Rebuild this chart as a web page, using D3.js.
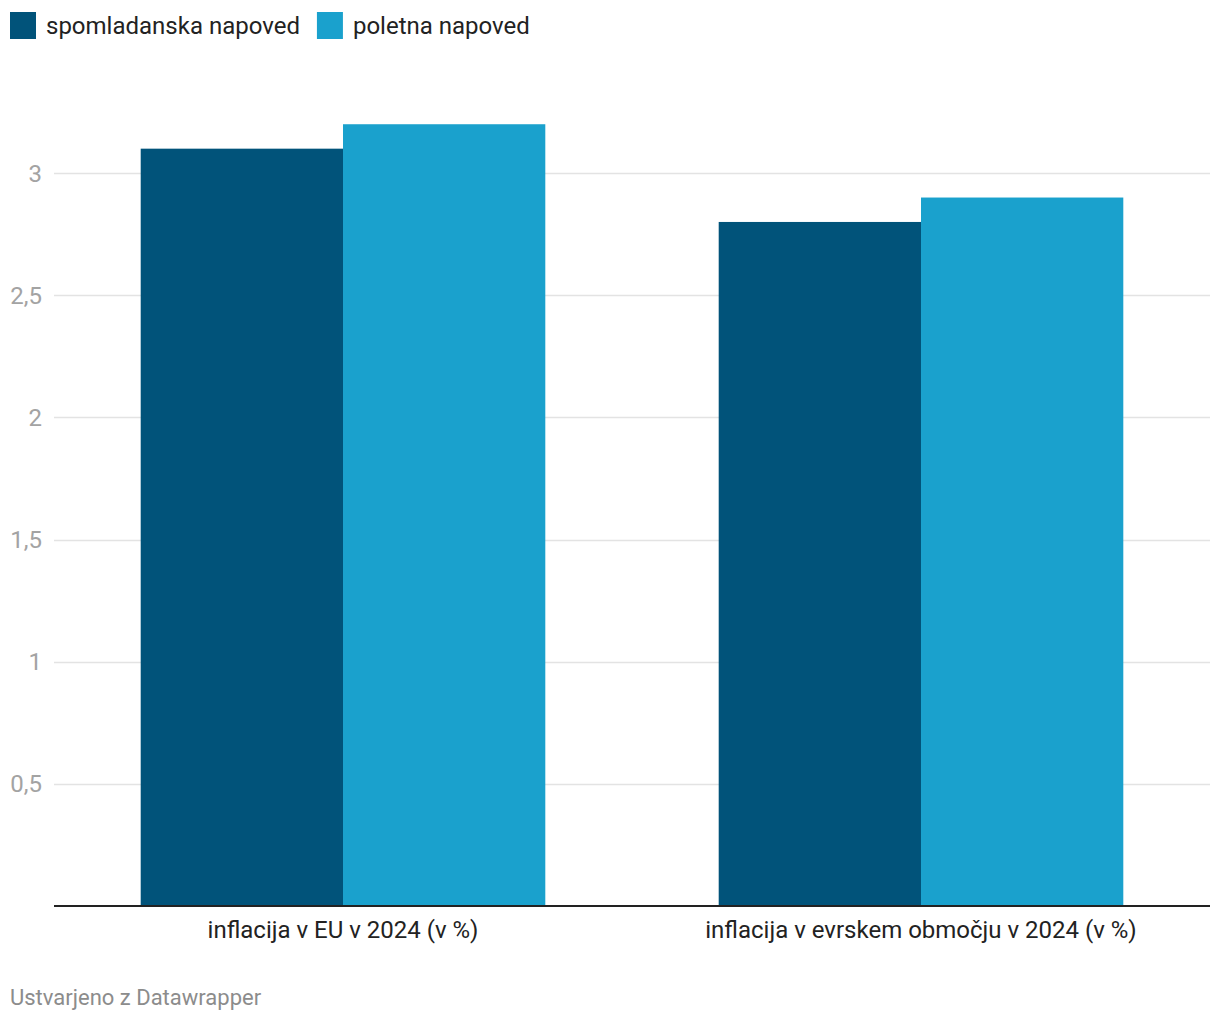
<!DOCTYPE html>
<html><head><meta charset="utf-8">
<script src="https://cdn.jsdelivr.net/npm/d3@7"></script>
<style>
body{margin:0;background:#fff;font-family:Roboto,sans-serif;}
</style></head><body>
<svg id="c" width="1220" height="1020"></svg>
<script>
const categories = ["inflacija v EU v 2024 (v %)", "inflacija v evrskem območju v 2024 (v %)"];
const seriesNames = ["spomladanska napoved", "poletna napoved"];
const spring = [3.1, 2.8];
const summer = [3.2, 2.9];
const yTicks = [0.5, 1, 1.5, 2, 2.5, 3];
const colors = ["#01537a", "#1aa1cd"];

(function(){
const svg = d3.select("#c");
const pLeft = 54, pRight = 1210, pBottom = 906;
const y = d3.scaleLinear().domain([0, 3.5]).range([pBottom, pBottom - 3.5 * 244.3]);
const x0 = d3.scaleBand().domain(categories).range([pLeft, pRight]).paddingInner(0.3).paddingOuter(0.15);
const x1 = d3.scaleBand().domain(seriesNames).range([0, x0.bandwidth()]);

// grid
const g = svg.append("g");
g.selectAll("line.grid").data(yTicks).enter().append("line")
  .attr("x1", pLeft).attr("x2", pRight)
  .attr("y1", d => Math.round(y(d)) + 0.5).attr("y2", d => Math.round(y(d)) + 0.5)
  .attr("stroke", "#e3e3e3").attr("stroke-width", 1.5);
g.selectAll("text.tick").data(yTicks).enter().append("text")
  .attr("x", 42).attr("y", d => y(d)).attr("dy", "0.35em")
  .attr("text-anchor", "end").attr("font-size", 24).attr("fill", "#a3a3a3")
  .text(d => String(d).replace(".", ","));

// bars
const data = categories.map((c, i) => ({c, vals: [spring[i], summer[i]]}));
const grp = svg.selectAll("g.grp").data(data).enter().append("g")
  .attr("transform", d => `translate(${x0(d.c)},0)`);
grp.selectAll("rect").data(d => d.vals.map((v, j) => ({v, s: seriesNames[j], j}))).enter().append("rect")
  .attr("x", d => x1(d.s)).attr("width", x1.bandwidth())
  .attr("y", d => y(d.v)).attr("height", d => pBottom - y(d.v))
  .attr("fill", d => colors[d.j]);

// axis line
svg.append("line").attr("x1", pLeft).attr("x2", pRight).attr("y1", pBottom).attr("y2", pBottom)
  .attr("stroke", "#222").attr("stroke-width", 2);

// category labels
svg.selectAll("text.cat").data(categories).enter().append("text")
  .attr("x", d => x0(d) + x0.bandwidth() / 2).attr("y", 930).attr("dy", "0.35em")
  .attr("text-anchor", "middle").attr("font-size", 24).attr("fill", "#222")
  .text(d => d);

// legend
const leg = svg.append("g");
let lx = 10;
seriesNames.forEach((s, i) => {
  leg.append("rect").attr("x", lx).attr("y", 12).attr("width", 26).attr("height", 27).attr("fill", colors[i]);
  const t = leg.append("text").attr("x", lx + 36).attr("y", 26).attr("dy", "0.35em")
    .attr("font-size", 24).attr("fill", "#222").text(s);
  lx += 36 + t.node().getComputedTextLength() + 17;
});

// footer
svg.append("text").attr("x", 10).attr("y", 997).attr("dy", "0.35em")
  .attr("font-size", 22).attr("fill", "#8c8c8c").text("Ustvarjeno z Datawrapper");
})();
</script>
</body></html>
